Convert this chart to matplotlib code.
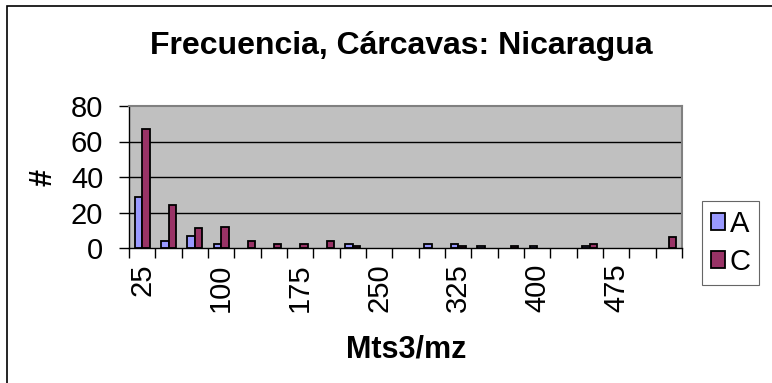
import matplotlib.pyplot as plt
import numpy as np
from matplotlib.patches import Rectangle

# Excel-ish palette
COL_A = "#9999FF"
COL_C = "#993366"
PLOT_BG = "#C0C0C0"

plt.rcParams.update({
    "font.family": ["Liberation Sans", "DejaVu Sans"],
})

# data
categories = ["25", "50", "75", "100", "125", "150", "175", "200", "225", "250",
              "275", "300", "325", "350", "375", "400", "425", "450", "475", "500",
              "525"]
serie_a = [29, 4, 7, 2, 0, 0, 0, 0, 2, 0, 0, 2, 2, 1, 0, 1, 0, 1, 0, 0, 0]
serie_c = [67, 24, 11, 12, 4, 2, 2, 4, 1, 0, 0, 0, 1, 0, 1, 0, 0, 2, 0, 0, 6]
y_ticks = [0, 20, 40, 60, 80]

W, H = 772, 383
fig = plt.figure(figsize=(W / 100, H / 100), dpi=100)
fig.patch.set_facecolor("white")

# plot area in pixels
x0, x1 = 129, 682
y_top, y_bot = 106, 248
ax = fig.add_axes([x0 / W, 1 - y_bot / H, (x1 - x0) / W, (y_bot - y_top) / H])
ax.set_facecolor(PLOT_BG)

n = len(categories)
x = np.arange(n)
bw = 0.285

# zero bars get no outline (excel draws nothing there)
lw_a = [1.3 if v > 0 else 0 for v in serie_a]
lw_c = [1.3 if v > 0 else 0 for v in serie_c]
bars_a = ax.bar(x - bw / 2, serie_a, width=bw, color=COL_A,
                edgecolor="black", linewidth=lw_a, zorder=3)
bars_c = ax.bar(x + bw / 2, serie_c, width=bw, color=COL_C,
                edgecolor="black", linewidth=lw_c, zorder=3)

ax.set_xlim(-0.5, n - 0.5)
ax.set_ylim(0, 80)

# gridlines
for yv in y_ticks[1:-1]:
    ax.axhline(yv, color="black", linewidth=1.0, zorder=1)

for side in ["top", "right"]:
    ax.spines[side].set_color("#808080")
    ax.spines[side].set_linewidth(1.5)
ax.spines["left"].set_color("black")
ax.spines["bottom"].set_color("black")
ax.spines["left"].set_linewidth(1.0)
ax.spines["bottom"].set_linewidth(1.0)
ax.spines["bottom"].set_zorder(4)

ax.set_yticks(y_ticks)
ax.set_yticklabels([str(v) for v in y_ticks], fontsize=21)
ax.tick_params(axis="y", direction="out", length=7.5, width=1.0, pad=11)

lab_idx = list(range(0, n, 3))
ax.set_xticks(lab_idx)
ax.set_xticklabels([categories[i] for i in lab_idx], rotation=90,
                   fontsize=21, va="top", ha="center")
ax.tick_params(axis="x", which="major", length=0, pad=11)
ax.set_xticks(np.arange(-0.5, n, 1.0), minor=True)
ax.tick_params(axis="x", which="minor", direction="out", length=7.5, width=1.0)

fig.text(43 / W, 1 - 177 / H, "#", fontsize=22, fontweight="bold",
         rotation=90, ha="center", va="center")
fig.text(406 / W, 1 - 357 / H, "Mts3/mz", fontsize=22, fontweight="bold",
         ha="center", va="baseline")
fig.text(401 / W, 1 - 54 / H, "Frecuencia, Cárcavas: Nicaragua",
         fontsize=23, fontweight="bold", ha="center", va="baseline")

leg = fig.legend([bars_a, bars_c], ["A", "C"], loc="upper left",
                 bbox_to_anchor=(702 / W, 1 - 201 / H), fontsize=21,
                 frameon=True, fancybox=False, handlelength=0.5,
                 handleheight=0.5, handletextpad=0.15, labelspacing=0.35,
                 borderpad=0.3, borderaxespad=0)
leg.get_frame().set_edgecolor("#404040")
leg.get_frame().set_linewidth(0.8)

# outer chart border
fig.patches.append(Rectangle((7 / W, -0.05), 1.0, 1 - 6 / H + 0.05,
                             transform=fig.transFigure, fill=False,
                             edgecolor="black", linewidth=1.2))

fig.savefig("out.png", dpi=100)
